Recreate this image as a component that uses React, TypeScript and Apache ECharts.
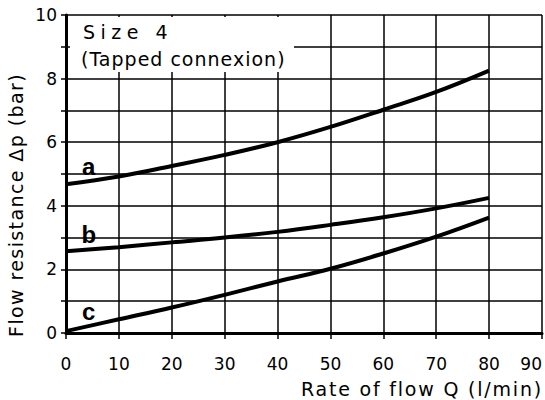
import React, { useEffect, useRef } from "react";
import * as echarts from "echarts";

const flowQ = [0, 10, 20, 30, 40, 50, 60, 70, 80];
const curveA = [4.68, 4.92, 5.25, 5.6, 6.0, 6.48, 7.02, 7.58, 8.25];
const curveB = [2.57, 2.7, 2.85, 3.0, 3.18, 3.4, 3.64, 3.92, 4.25];
const curveC = [0.06, 0.43, 0.8, 1.2, 1.62, 2.02, 2.5, 3.03, 3.63];
const curveNames = ["a", "b", "c"];
const labelAnchors = [
  [4.3, 5.25],
  [4.3, 3.1],
  [4.3, 0.68],
];

const xTitle = "Rate of flow Q (l/min)";
const yTitle = "Flow resistance Δp (bar)";
const boxLine1 = "Size 4";
const boxLine2 = "(Tapped connexion)";

const spacing: Record<string, string> = {
  [xTitle]: "1.8",
  [yTitle]: "1.4",
  [boxLine1]: "5.5",
  [boxLine2]: "1.0",
};

export default function App() {
  const ref = useRef<HTMLDivElement>(null);
  useEffect(() => {
    if (!ref.current) return;
    const el = ref.current;
    const chart = echarts.init(el, undefined, { renderer: "svg", width: 545, height: 400 });
    const applySpacing = () => {
      el.querySelectorAll("text").forEach((t) => {
        const s = spacing[(t.textContent || "").trim()];
        if (s && t.getAttribute("letter-spacing") !== s) t.setAttribute("letter-spacing", s);
      });
    };
    const curves = [curveA, curveB, curveC];
    const series = curves.map((vals, i) => ({
      type: "line",
      name: curveNames[i],
      data: flowQ.map((q, j) => [q, vals[j]]),
      smooth: 0.4,
      symbol: "none",
      lineStyle: { color: "#000", width: 4 },
      z: 5,
      markPoint: {
        symbol: "circle",
        symbolSize: 0,
        data: [
          {
            coord: labelAnchors[i],
            label: {
              show: true,
              formatter: curveNames[i],
              position: "inside",
              color: "#000",
              fontWeight: "bold",
              fontSize: 24,
              fontFamily: "Liberation Sans",
            },
          },
        ],
      },
    }));
    chart.on("rendered", applySpacing);
    chart.setOption({
      animation: false,
      backgroundColor: "#fff",
      grid: {
        left: 66,
        right: 3,
        top: 15,
        bottom: 67,
        containLabel: false,
        outerBoundsMode: "none",
      },
      xAxis: {
        type: "value",
        min: 0,
        max: 90,
        interval: 10,
        axisLine: { show: true, onZero: false, lineStyle: { color: "#000", width: 3 } },
        axisTick: { show: true, length: 6, lineStyle: { color: "#000", width: 1.5 } },
        axisLabel: {
          color: "#000",
          fontSize: 17,
          fontFamily: "DejaVu Sans",
          margin: 22,
          alignMaxLabel: "right",
        },
        splitLine: { show: true, lineStyle: { color: "#000", width: 1.5 } },
      },
      yAxis: {
        type: "value",
        min: 0,
        max: 10,
        interval: 1,
        axisLine: { show: true, onZero: false, lineStyle: { color: "#000", width: 3 } },
        axisTick: { show: true, length: 5, lineStyle: { color: "#000", width: 1.5 } },
        axisLabel: {
          color: "#000",
          fontSize: 17,
          fontFamily: "DejaVu Sans",
          margin: 9,
          formatter: (v: number) => (v % 2 === 0 ? String(v) : ""),
        },
        splitLine: { show: true, lineStyle: { color: "#000", width: 1.5 } },
      },
      graphic: [
        {
          type: "rect",
          z: 100,
          shape: { x: 70, y: 17, width: 224, height: 55 },
          style: { fill: "#fff" },
        },
        {
          type: "text",
          z: 101,
          x: 83,
          y: 32,
          style: {
            text: boxLine1,
            fontSize: 19,
            fontFamily: "DejaVu Sans",
            fill: "#000",
            align: "left",
            verticalAlign: "middle",
          },
        },
        {
          type: "text",
          z: 101,
          x: 81,
          y: 59,
          style: {
            text: boxLine2,
            fontSize: 19,
            fontFamily: "DejaVu Sans",
            fill: "#000",
            align: "left",
            verticalAlign: "middle",
          },
        },
        {
          type: "text",
          z: 101,
          x: 543,
          y: 389,
          style: {
            text: xTitle,
            fontSize: 19,
            fontFamily: "DejaVu Sans",
            fill: "#000",
            align: "right",
            verticalAlign: "middle",
          },
        },
        {
          type: "text",
          z: 101,
          x: 16,
          y: 205,
          rotation: Math.PI / 2,
          style: {
            text: yTitle,
            fontSize: 19,
            fontFamily: "DejaVu Sans",
            fill: "#000",
            align: "center",
            verticalAlign: "middle",
          },
        },
      ],
      series,
    });
    applySpacing();
    const timer = setTimeout(applySpacing, 0);
    return () => {
      clearTimeout(timer);
      chart.dispose();
    };
  }, []);
  return (
    <div
      ref={ref}
      style={{ position: "fixed", left: 0, top: 0, width: 545, height: 400 }}
    />
  );
}
